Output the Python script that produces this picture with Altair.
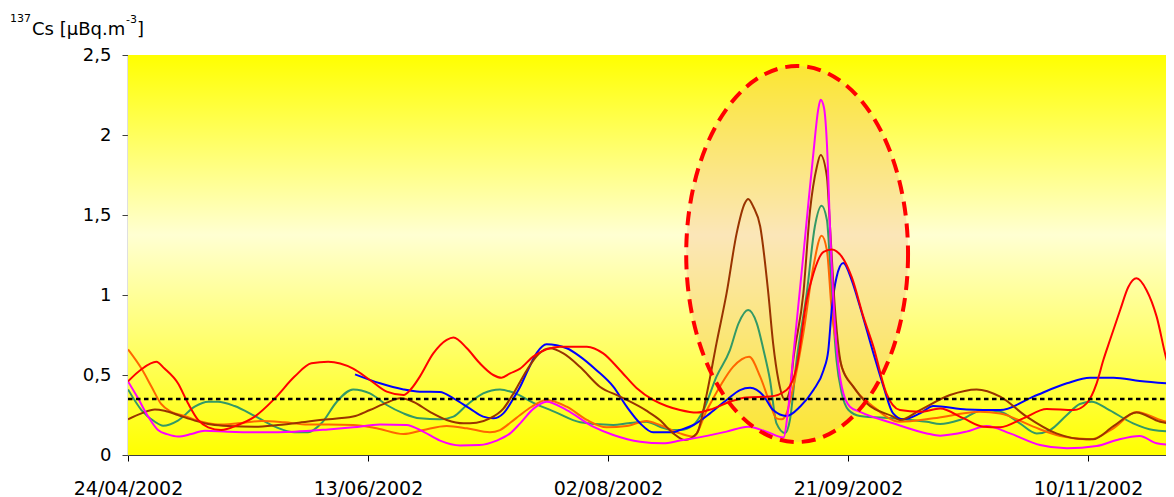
import json
import altair as alt
import pandas as pd

# ---------------- data (day offset from 24/04/2002, value in µBq/m3) ----------------
red_days = [0, 2.8, 5.9, 7.6, 10.4, 12.5, 14.6, 16.7, 19.4, 22.9, 26.4, 30.6, 34.7, 38.2, 41.7,
            46.9, 50.4, 53.9, 57.4, 59.1, 60.8, 63.6, 66.4, 67.8, 70.6, 73.3, 76.1, 77.8, 79.6,
            81.7, 84.4, 87.2, 90, 95.6, 99, 102.5, 106, 109.4, 112.2, 115, 118.5, 121.9, 125.4,
            128.9, 133.75, 137.2, 139.3, 141.4, 142.8, 144.9, 146.6, 148.7, 150.8, 153.2, 155.3,
            158, 160.8, 165, 169.2, 174, 178.2, 181.7, 186.5, 191.4, 197, 199.7, 201.8, 203.2,
            204.6, 206.7, 208.4, 210.1, 212.2, 214.3, 216.4, 217.9]
red_vals = [0.46, 0.536, 0.583, 0.54, 0.448, 0.323, 0.219, 0.173, 0.156, 0.1875, 0.24, 0.354, 0.49,
            0.573, 0.583, 0.54, 0.469, 0.396, 0.375, 0.417, 0.49, 0.635, 0.72, 0.735, 0.667, 0.573,
            0.5, 0.483, 0.51, 0.54, 0.615, 0.66, 0.677, 0.677, 0.635, 0.53, 0.417, 0.344, 0.306,
            0.281, 0.265, 0.29, 0.333, 0.36, 0.365, 0.406, 0.55, 0.97, 1.135, 1.27, 1.285, 1.24,
            1.11, 0.865, 0.677, 0.385, 0.281, 0.27, 0.29, 0.23, 0.177, 0.173, 0.229, 0.2875, 0.281,
            0.323, 0.448, 0.594, 0.72, 0.906, 1.05, 1.104, 1.03, 0.865, 0.594, 0.469]

blue_days = [47.3, 52.5, 57.4, 60.8, 65, 67.8, 71.25, 74, 76.1, 78.2, 80.3, 81.7, 83.3, 85.2, 87.2,
             91.4, 94.2, 97.6, 101.1, 103.9, 106.7, 109.4, 113.6, 115, 117.8, 121.25, 124.7, 127.5,
             129.6, 132.4, 134.4, 137.2, 140, 142.8, 144.9, 145.9, 146.6, 147.6, 149, 150.8, 152.5,
             155.3, 157.4, 159.4, 161.5, 165, 167.8, 174.7, 181.7, 188.6, 195.6, 200.4, 205.3,
             210.8, 217.9]
blue_vals = [0.504, 0.448, 0.41, 0.396, 0.394, 0.354, 0.29, 0.24, 0.229, 0.26, 0.354, 0.427, 0.53,
             0.64, 0.692, 0.667, 0.615, 0.53, 0.427, 0.302, 0.198, 0.142, 0.142, 0.156, 0.1875, 0.26,
             0.344, 0.406, 0.42, 0.37, 0.281, 0.244, 0.302, 0.406, 0.53, 0.656, 0.906, 1.11, 1.2,
             1.09, 0.927, 0.635, 0.427, 0.26, 0.223, 0.26, 0.306, 0.285, 0.281, 0.365, 0.448, 0.483,
             0.483, 0.4625, 0.444]

green_days = [0, 2.8, 5.6, 7.3, 10.4, 13.9, 16.7, 18.75, 22.2, 26.4, 30.6, 34.7, 37.5, 40.3, 43.5,
              46.9, 50.4, 53.9, 57.4, 60.8, 65, 67.8, 70.6, 74, 77.5, 80.3, 84.7, 88.9, 94.2, 101.1,
              104.2, 108, 110.8, 113.6, 115, 117.8, 119.9, 122.6, 125.4, 127.2, 129.2, 131, 132.4,
              133.75, 135.1, 136.9, 137.9, 139.3, 141.4, 143.1, 144.5, 145.6, 146.6, 147.6, 148.7,
              150.1, 152.5, 159.4, 166.4, 169.2, 173.3, 178.2, 181.7, 185.8, 189.3, 192.1, 195.6,
              198.3, 200.8, 203.9, 209.4, 213.6, 217.9]
green_vals = [0.41, 0.281, 0.208, 0.183, 0.215, 0.302, 0.333, 0.333, 0.306, 0.244, 0.177, 0.142,
              0.142, 0.198, 0.333, 0.41, 0.385, 0.3125, 0.26, 0.229, 0.223, 0.24, 0.3125, 0.385,
              0.41, 0.39, 0.323, 0.27, 0.205, 0.1875, 0.198, 0.208, 0.177, 0.156, 0.156, 0.1875,
              0.281, 0.49, 0.656, 0.823, 0.906, 0.823, 0.656, 0.469, 0.198, 0.1375, 0.219, 0.594,
              1.01, 1.43, 1.558, 1.47, 1.01, 0.594, 0.385, 0.281, 0.244, 0.229, 0.208, 0.194, 0.219,
              0.281, 0.27, 0.198, 0.135, 0.156, 0.25, 0.319, 0.333, 0.29, 0.198, 0.156, 0.146]

brown_days = [0, 2.8, 5.6, 7.6, 10.4, 13.9, 17.4, 20.8, 26.4, 31.25, 36.1, 40, 46.9, 50.4, 53.9,
              56.7, 59.4, 62.9, 66.4, 69.9, 72.6, 75.4, 78.2, 80.3, 81.7, 83.3, 85.5, 87.9, 90.7,
              94.2, 98.3, 102.5, 108, 110.8, 113.6, 116, 118.5, 120.6, 122.6, 124.7, 126.8, 128.5,
              129.2, 130.3, 131.7, 133.4, 134.4, 135.5, 136.9, 137.9, 138.6, 140.7, 142.1, 143.5,
              144.3, 145.6, 146.25, 147.3, 148.7, 151.1, 153.9, 159.4, 160.8, 165, 171.25, 176.8,
              181.7, 187.2, 193.4, 199.7, 201, 205.3, 210.1, 215, 217.9]
brown_vals = [0.223, 0.26, 0.285, 0.277, 0.25, 0.215, 0.19, 0.181, 0.177, 0.1875, 0.204, 0.219,
              0.24, 0.281, 0.327, 0.354, 0.333, 0.27, 0.219, 0.198, 0.202, 0.229, 0.29, 0.385,
              0.458, 0.54, 0.63, 0.667, 0.635, 0.55, 0.427, 0.365, 0.277, 0.219, 0.135, 0.094,
              0.135, 0.385, 0.698, 1.01, 1.385, 1.573, 1.6, 1.55, 1.43, 1.01, 0.698, 0.469, 0.344,
              0.406, 0.594, 1.01, 1.53, 1.8, 1.875, 1.74, 1.43, 0.906, 0.55, 0.427, 0.323, 0.24,
              0.219, 0.281, 0.375, 0.41, 0.365, 0.24, 0.135, 0.098, 0.098, 0.18, 0.265, 0.208, 0.194]

orange_days = [0, 2.8, 4.9, 6.9, 9, 11.8, 15.3, 18.75, 22.9, 27.8, 32.6, 37.5, 41.7, 46.9, 51.8,
               57.4, 61.5, 66.4, 70.6, 75.4, 77.5, 79.9, 81.7, 84, 87.2, 91.4, 95.6, 99.7, 103.9,
               108, 110.8, 115, 117.8, 120.6, 123.3, 126.1, 129.4, 131.7, 133.75, 135.1, 136.2,
               137.2, 138.3, 140.7, 142.8, 144.5, 145.6, 146.6, 148.3, 151.1, 155.3, 160.8, 167.8,
               177.5, 181.7, 188.6, 194.2, 200.4, 205.3, 210.1, 215.7, 217.9]
orange_vals = [0.66, 0.54, 0.427, 0.319, 0.27, 0.244, 0.208, 0.19, 0.198, 0.2125, 0.204, 0.19,
               0.19, 0.1875, 0.167, 0.131, 0.156, 0.181, 0.167, 0.142, 0.156, 0.208, 0.25, 0.3,
               0.344, 0.302, 0.219, 0.173, 0.181, 0.2125, 0.1875, 0.135, 0.115, 0.281, 0.427, 0.552,
               0.614, 0.49, 0.323, 0.229, 0.223, 0.26, 0.385, 0.76, 1.18, 1.37, 1.28, 0.906, 0.594,
               0.427, 0.302, 0.208, 0.229, 0.27, 0.26, 0.177, 0.119, 0.098, 0.167, 0.269, 0.2125, 0.2]

magenta_days = [0, 2.1, 4.2, 6.25, 8.3, 10.4, 13.2, 16, 20.8, 27.8, 34.7, 41.7, 46.9, 52.5, 58,
                61.5, 65, 69.2, 73.3, 76.8, 79.6, 81.7, 84.5, 87.2, 91.4, 96.9, 101.1, 106.7, 111.5,
                115, 117.8, 124.7, 129.2, 133, 136.6, 137.4, 138.6, 140.7, 141.7, 142.8, 143.8,
                144.3, 145, 145.6, 146.25, 147.3, 148.7, 150.4, 152.5, 159.4, 166.4, 169.2, 174.7,
                178.9, 183.75, 190, 195.6, 201.8, 206, 210.8, 214.3, 217.9]
magenta_vals = [0.46, 0.354, 0.24, 0.156, 0.129, 0.115, 0.131, 0.152, 0.146, 0.142, 0.146, 0.16,
                0.173, 0.19, 0.1875, 0.146, 0.09, 0.06, 0.0625, 0.09, 0.135, 0.198, 0.29, 0.333,
                0.28, 0.177, 0.125, 0.083, 0.073, 0.09, 0.104, 0.146, 0.177, 0.146, 0.11, 0.25,
                0.62, 1.25, 1.56, 1.89, 2.16, 2.22, 2.17, 1.95, 1.43, 0.8, 0.427, 0.302, 0.27, 0.198,
                0.135, 0.121, 0.146, 0.181, 0.135, 0.0625, 0.042, 0.056, 0.094, 0.119, 0.073, 0.062]

series_names = ["green", "orange", "blue", "brown", "magenta", "red"]  # drawing order
series_colors = {"red": "#FF0000", "blue": "#0000FF", "green": "#339966",
                 "brown": "#993300", "orange": "#FF6600", "magenta": "#FF00FF"}
series_data = {"red": (red_days, red_vals), "blue": (blue_days, blue_vals),
               "green": (green_days, green_vals), "brown": (brown_days, brown_vals),
               "orange": (orange_days, orange_vals), "magenta": (magenta_days, magenta_vals)}

threshold = [0.35]
highlight_center_day = [139.4]
highlight_center_value = [1.256]

tick_days = [0, 50, 100, 150, 200]
tick_labels = ["24/04/2002", "13/06/2002", "02/08/2002", "21/09/2002", "10/11/2002"]
y_ticks = [0, 0.5, 1, 1.5, 2, 2.5]
title_parts = ["137", "Cs [µBq.m", "-3", "]"]

# ---------------- layout ----------------
W, H = 1038, 400          # total chart width kept at 1158 so the page does not shrink it
X_MAX = W / 4.8
FONT = "DejaVu Sans"

x_axis = alt.Axis(values=tick_days,
                  labelExpr=f"{json.dumps(tick_labels)}[indexof({json.dumps(tick_days)}, datum.value)]",
                  title="", grid=False, tickSize=6, tickColor="black", domainColor="#404040",
                  labelFont=FONT, labelFontSize=19, labelColor="black", labelPadding=18,
                  labelFlush=False, labelOverlap=False)
y_axis = alt.Axis(values=y_ticks,
                  labelExpr="replace(format(datum.value, '.1~f'), '.', ',')",
                  title="", grid=False, tickSize=6, tickColor="#404040", domainColor="#808080",
                  domainWidth=1.5, labelFont=FONT, labelFontSize=18, labelColor="black",
                  labelPadding=11, labelFlush=False, labelOverlap=False)
x_enc = alt.X("day:Q", scale=alt.Scale(domain=[0, X_MAX], nice=False, zero=False), axis=x_axis)
y_enc = alt.Y("value:Q", scale=alt.Scale(domain=[0, 2.5], nice=False), axis=y_axis)

background = alt.Chart(pd.DataFrame({"a": [0]})).mark_rect(
    fill=alt.Gradient(gradient="linear", x1=0, y1=0, x2=0, y2=1,
                      stops=[alt.GradientStop(offset=0, color="#FFFF00"),
                             alt.GradientStop(offset=0.45, color="#FFFFD2"),
                             alt.GradientStop(offset=1, color="#FFFF00")])
).encode(x=alt.value(0), x2=alt.value(W), y=alt.value(0), y2=alt.value(H))

# ellipse as custom symbol path (bezier approximation), unit box [-1, 1]
rx, k = 0.59, 0.5523
ellipse = (f"M {rx} 0 C {rx} {k} {rx*k:.4f} 1 0 1 C {-rx*k:.4f} 1 {-rx} {k} {-rx} 0 "
           f"C {-rx} {-k} {-rx*k:.4f} -1 0 -1 C {rx*k:.4f} -1 {rx} {-k} {rx} 0 Z")
ell_df = pd.DataFrame({"day": highlight_center_day, "value": highlight_center_value})
ell_size = (2 * 188) ** 2

ell_fill = alt.Chart(ell_df).mark_point(
    shape=ellipse, size=ell_size, filled=True, fill="#F4B084", fillOpacity=0.32,
    strokeWidth=0, opacity=1
).encode(x=x_enc, y=y_enc)

ell_stroke = alt.Chart(ell_df).mark_point(
    shape=ellipse, size=ell_size, filled=False, stroke="#FF0000", strokeWidth=4,
    strokeDash=[14, 8], opacity=1
).encode(x=x_enc, y=y_enc)

lines = []
for name in series_names:
    d, v = series_data[name]
    df = pd.DataFrame({"day": d, "value": v, "series": name})
    lines.append(alt.Chart(df).mark_line(color=series_colors[name], strokeWidth=2,
                                         interpolate="monotone", clip=True)
                 .encode(x=x_enc, y=y_enc))

rule = alt.Chart(pd.DataFrame({"value": threshold})).mark_rule(
    color="black", strokeWidth=2.5, strokeDash=[4.5, 3.5]
).encode(y=y_enc, x=alt.value(0), x2=alt.value(W))

def txt(t, x, y, size):
    return alt.Chart(pd.DataFrame({"t": [t]})).mark_text(
        align="left", baseline="alphabetic", font=FONT, fontSize=size, color="black"
    ).encode(text="t:N", x=alt.value(x), y=alt.value(y))

titles = [txt(title_parts[0], -118, -33, 11),
          txt(title_parts[1], -96, -20, 18),
          txt(title_parts[2], -2, -32, 11),
          txt(title_parts[3], 9, -20, 18)]

chart = alt.layer(background, ell_fill, *lines, rule, ell_stroke, *titles).properties(
    width=W, height=H,
    padding={"left": 120, "top": 47, "right": 0, "bottom": 42},
    autosize=alt.AutoSizeParams(type="none"),
    background="white",
).configure_view(strokeWidth=0)

chart.save("out.html", embed_options={"renderer": "svg", "actions": False})
